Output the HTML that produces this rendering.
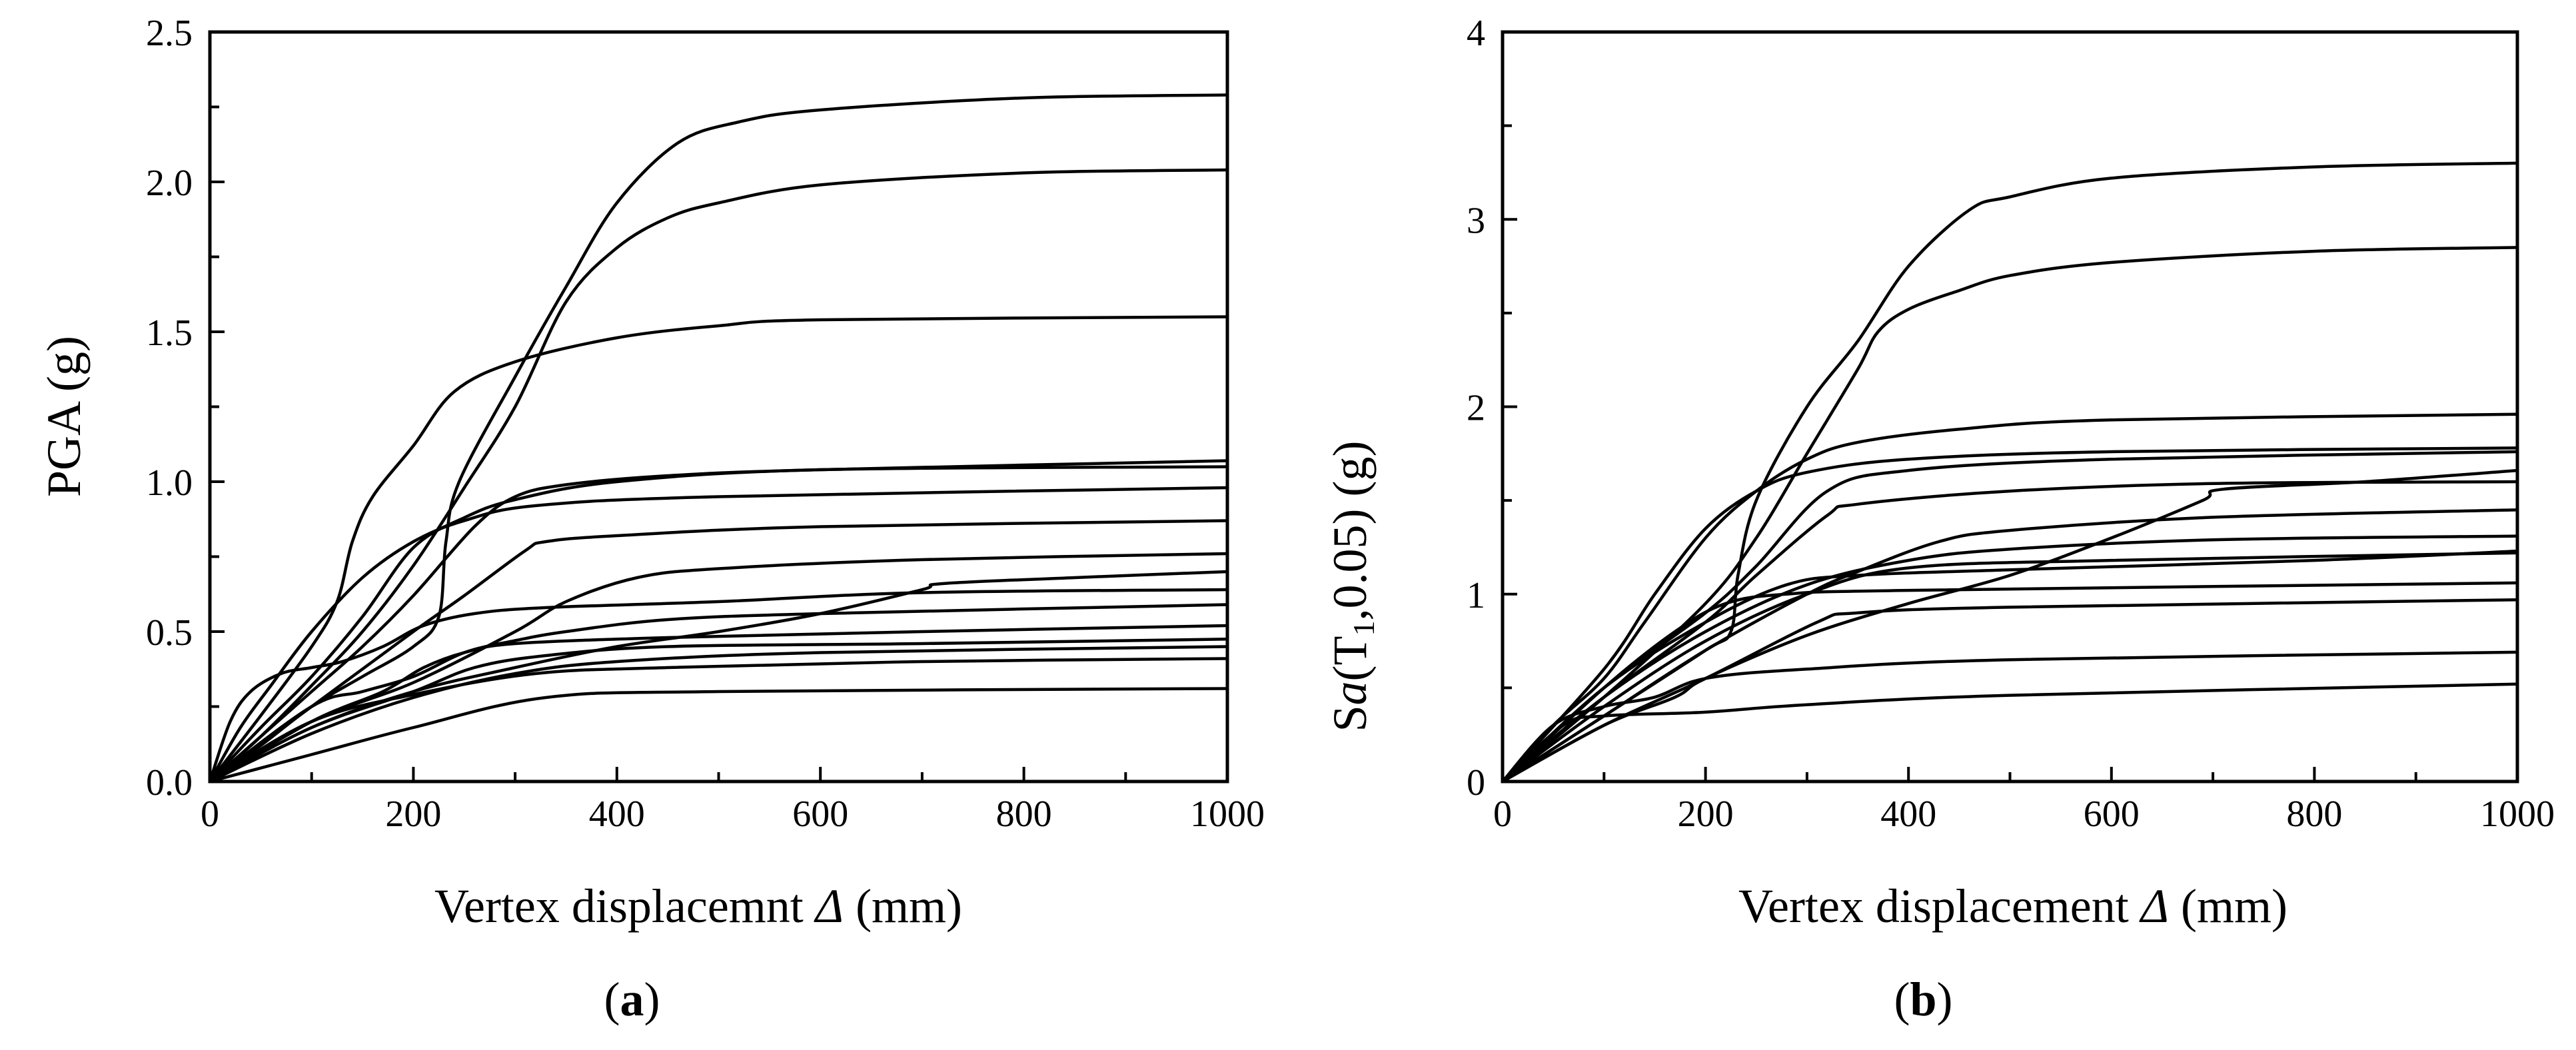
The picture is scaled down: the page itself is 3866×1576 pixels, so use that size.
<!DOCTYPE html>
<html><head><meta charset="utf-8"><style>
html,body{margin:0;padding:0;background:#fff;}
svg{display:block;font-family:"Liberation Serif",serif;}
</style></head><body>
<svg id="chart" width="3866" height="1576" viewBox="0 0 3866 1576" xmlns="http://www.w3.org/2000/svg">
<rect width="3866" height="1576" fill="#fff"/>
<g id="pa"></g>
<g id="pb"></g>
</svg>
<script>
const xTicks=[0,200,400,600,800,1000];
const yTicksA=[0,0.5,1.0,1.5,2.0,2.5];
const yTickLabelsA=["0.0","0.5","1.0","1.5","2.0","2.5"];
const yTicksB=[0,1,2,3,4];
const yTickLabelsB=["0","1","2","3","4"];
const xA=[[0,50,100,150,200,225,232,245,300,350,400,460,520,600,800,1000],[0,50,100,150,200,250,300,350,400,450,500,600,800,1000],[0,50,100,125,140,160,200,240,300,400,500,600,1000],[0,100,150,200,260,300,350,450,600,1000],[0,50,100,150,200,250,300,400,600,1000],[0,30,60,100,150,200,250,320,500,1000],[0,100,200,250,310,330,400,600,1000],[0,100,200,300,350,420,500,700,1000],[0,100,200,300,400,500,600,700,720,850,1000],[0,20,40,70,100,130,170,210,260,330,500,700,1000],[0,100,150,200,250,300,350,450,600,1000],[0,100,170,210,250,300,450,700,1000],[0,100,200,260,330,450,700,1000],[0,100,200,300,400,600,1000],[0,100,200,320,450,700,1000],[0,100,200,330,500,1000]];
const yA=[[0,0.12,0.25,0.35,0.45,0.55,0.8,1.0,1.35,1.65,1.93,2.13,2.2,2.24,2.28,2.29],[0,0.15,0.32,0.5,0.72,0.98,1.25,1.6,1.78,1.88,1.93,1.99,2.03,2.04],[0,0.22,0.45,0.6,0.8,0.95,1.12,1.3,1.4,1.48,1.52,1.54,1.55],[0,0.3,0.45,0.62,0.85,0.95,0.99,1.02,1.04,1.07],[0,0.18,0.35,0.55,0.78,0.88,0.94,1.0,1.04,1.05],[0,0.18,0.32,0.5,0.68,0.8,0.87,0.92,0.95,0.98],[0,0.25,0.5,0.62,0.77,0.8,0.82,0.85,0.87],[0,0.2,0.33,0.5,0.6,0.68,0.71,0.74,0.76],[0,0.18,0.3,0.38,0.45,0.5,0.56,0.64,0.66,0.68,0.70],[0,0.2,0.3,0.36,0.38,0.4,0.45,0.52,0.56,0.58,0.6,0.63,0.64],[0,0.25,0.3,0.35,0.43,0.47,0.5,0.54,0.56,0.59],[0,0.2,0.3,0.38,0.43,0.46,0.48,0.5,0.52],[0,0.18,0.3,0.38,0.42,0.45,0.46,0.475],[0,0.16,0.28,0.36,0.4,0.43,0.45],[0,0.2,0.29,0.36,0.38,0.4,0.41],[0,0.09,0.18,0.28,0.3,0.31]];
const xB=[[0,100,200,225,232,250,300,350,400,460,500,600,800,1000],[0,100,200,250,300,350,370,400,450,500,600,800,1000],[0,50,100,140,200,250,300,350,450,600,1000],[0,100,150,200,250,300,400,600,1000],[0,100,200,250,320,400,600,1000],[0,100,170,200,300,400,500,600,690,710,850,1000],[0,100,200,250,320,350,500,700,1000],[0,100,200,300,350,430,500,700,1000],[0,100,200,300,400,500,700,1000],[0,100,200,300,400,600,1000],[0,100,200,280,350,500,800,1000],[0,100,170,220,280,400,1000],[0,100,200,310,350,500,1000],[0,50,100,150,200,300,500,1000],[0,60,100,200,300,500,1000]];
const yB=[[0,0.35,0.7,0.8,1.1,1.5,2.0,2.35,2.75,3.05,3.12,3.22,3.28,3.3],[0,0.45,0.95,1.3,1.75,2.2,2.4,2.52,2.62,2.7,2.77,2.83,2.85],[0,0.3,0.55,0.85,1.3,1.55,1.72,1.81,1.88,1.93,1.96],[0,0.6,1.0,1.35,1.55,1.65,1.72,1.76,1.78],[0,0.5,0.9,1.15,1.55,1.66,1.72,1.76],[0,0.3,0.45,0.55,0.78,0.95,1.1,1.3,1.5,1.56,1.6,1.66],[0,0.45,0.85,1.1,1.42,1.48,1.55,1.59,1.6],[0,0.35,0.7,1.0,1.12,1.28,1.34,1.41,1.45],[0,0.45,0.8,1.05,1.18,1.24,1.29,1.31],[0,0.4,0.75,1.0,1.14,1.18,1.22],[0,0.5,0.85,1.05,1.1,1.13,1.18,1.23],[0,0.5,0.8,0.95,1.0,1.02,1.06],[0,0.3,0.55,0.85,0.9,0.93,0.97],[0,0.3,0.4,0.45,0.55,0.6,0.65,0.69],[0,0.3,0.35,0.37,0.41,0.46,0.52]];

const NS="http://www.w3.org/2000/svg";
function mk(parent,tag,attrs){const e=document.createElementNS(NS,tag);for(const k in attrs)e.setAttribute(k,attrs[k]);parent.appendChild(e);return e;}
function smooth(pts){let d="M"+pts[0][0].toFixed(1)+","+pts[0][1].toFixed(1);
 for(let i=0;i<pts.length-1;i++){const p0=pts[Math.max(0,i-1)],p1=pts[i],p2=pts[i+1],p3=pts[Math.min(pts.length-1,i+2)];
  const c1=[p1[0]+(p2[0]-p0[0])/6,p1[1]+(p2[1]-p0[1])/6],c2=[p2[0]-(p3[0]-p1[0])/6,p2[1]-(p3[1]-p1[1])/6];
  d+="C"+c1[0].toFixed(1)+","+c1[1].toFixed(1)+" "+c2[0].toFixed(1)+","+c2[1].toFixed(1)+" "+p2[0].toFixed(1)+","+p2[1].toFixed(1);}
 return d;}
function panel(g,L,R,T,B,ymax,yTicks,yLabels,yMinor,xs,ys,ytitle,ytx,yty,xtitle,xtc,letter){
 const sx=v=>L+(R-L)*v/1000, sy=v=>B-(B-T)*v/ymax;
 for(let i=0;i<xs.length;i++){
  const p=mk(g,"path",{d:smooth(xs[i].map((x,j)=>[sx(x),sy(ys[i][j])])),fill:"none",stroke:"#000","stroke-width":4.5});
  
  
 }
 const fr=mk(g,"rect",{x:L,y:T,width:R-L,height:B-T,fill:"none",stroke:"#000","stroke-width":5});
 
 
 for(let v=0;v<=1000;v+=100){const maj=v%200===0;
  const t=mk(g,"line",{x1:sx(v),x2:sx(v),y1:B,y2:B-(maj?22:14),stroke:"#000","stroke-width":4});
  
  }
 xTicks.forEach(v=>{const t=mk(g,"text",{x:sx(v),y:1240,"font-size":56,"text-anchor":"middle"});t.textContent=String(v);
  
  });
 for(let v=0;v<=ymax+1e-9;v+=yMinor){const maj=yTicks.some(t=>Math.abs(t-v)<1e-6);
  const t=mk(g,"line",{x1:L,x2:L+(maj?22:14),y1:sy(v),y2:sy(v),stroke:"#000","stroke-width":4});
  
  }
 yTicks.forEach((v,i)=>{const t=mk(g,"text",{x:L-26,y:sy(v)+20,"font-size":56,"text-anchor":"end"});t.textContent=yLabels[i];
  
  });
 const yt=mk(g,"text",{x:ytx,y:yty,"font-size":72,"text-anchor":"middle",transform:"rotate(-90 "+ytx+" "+yty+")"});
 yt.innerHTML=ytitle;
 
 
 const xt=mk(g,"text",{x:xtc,y:1384,"font-size":72,"text-anchor":"middle"});
 xt.innerHTML=xtitle;
 
 
 const lt=mk(g,"text",{x:(L+R)/2-130,y:1524,"font-size":72,"text-anchor":"middle"});
 lt.innerHTML='(<tspan font-weight="bold">'+letter+'</tspan>)';
 
 
}
panel(document.getElementById('pa'),315,1842,48,1173,2.5,yTicksA,yTickLabelsA,0.25,xA,yA,"PGA (g)",120,625,
 'Vertex displacemnt <tspan font-style="italic">Δ</tspan> (mm)',1048,"a");
panel(document.getElementById('pb'),2255,3778,48,1173,4,yTicksB,yTickLabelsB,0.5,xB,yB,
 'S<tspan font-style="italic">a</tspan>(T<tspan font-size="46" dy="12">1</tspan><tspan dy="-12">,0.05) (g)</tspan>',2050,880,
 'Vertex displacement <tspan font-style="italic">Δ</tspan> (mm)',3021,"b");
</script>
</body></html>
